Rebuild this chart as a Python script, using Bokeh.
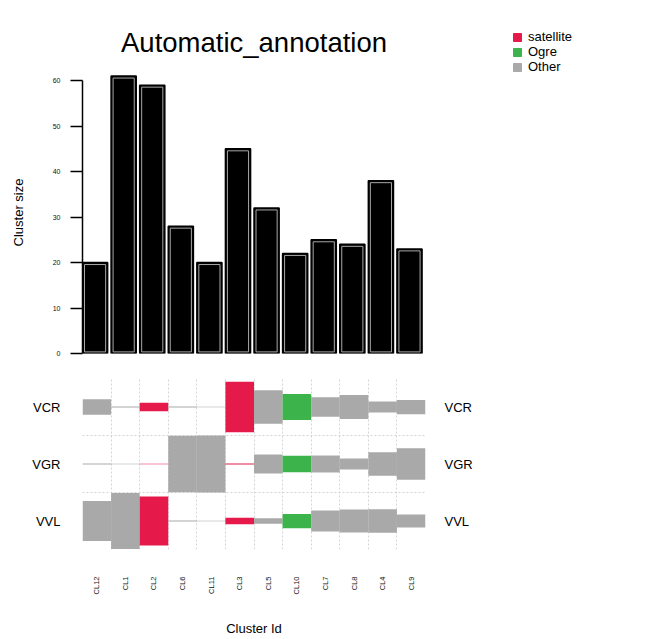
import math
from bokeh.plotting import figure
from bokeh.layouts import column, row
from bokeh.models import (Range1d, FixedTicker, Legend, LegendItem, LinearAxis,
                          ColumnDataSource)
from bokeh.embed import file_html
from bokeh.resources import INLINE

# ---------------- data ----------------
clusters = ["CL12", "CL1", "CL2", "CL6", "CL11", "CL3", "CL5", "CL10", "CL7", "CL8", "CL4", "CL9"]
sizes = [20, 61, 59, 28, 20, 45, 32, 22, 25, 24, 38, 23]
annotation = ["Other", "Other", "satellite", "Other", "Other", "satellite",
              "Other", "Ogre", "Other", "Other", "Other", "Other"]
size_ticks = [0, 10, 20, 30, 40, 50, 60]

rows = ["VCR", "VGR", "VVL"]
vcr = [0.27, 0.02, 0.15, 0.02, 0.01, 0.89, 0.59, 0.46, 0.34, 0.42, 0.19, 0.25]
vgr = [0.02, 0.01, 0.01, 0.99, 1.00, 0.02, 0.33, 0.29, 0.30, 0.19, 0.41, 0.55]
vvl = [0.70, 0.98, 0.86, 0.02, 0.01, 0.11, 0.10, 0.25, 0.37, 0.40, 0.41, 0.23]

legend_labels = ["satellite", "Ogre", "Other"]
legend_colors = ["#e6194b", "#3cb44b", "#a9a9a9"]

FONT = "Liberation Sans"
color_of = dict(zip(legend_labels, legend_colors))
n = len(clusters)
idx = list(range(n))

# ---------------- top: bar chart ----------------
p1 = figure(width=500, height=368, x_range=Range1d(0, n), y_range=Range1d(0, 62),
            output_backend="svg", toolbar_location=None,
            min_border_left=82, min_border_right=75, min_border_top=71, min_border_bottom=15)
p1.title.text = "Automatic_annotation"
p1.title.align = "center"
p1.title.text_font = FONT
p1.title.text_font_size = "27.5px"
p1.title.text_font_style = "normal"
p1.title.text_color = "black"
p1.title.standoff = 28

bar_w = 0.88
src = ColumnDataSource(dict(left=idx, right=[i + bar_w for i in idx],
                            top=sizes, bottom=[0] * n))
p1.quad(left="left", right="right", top="top", bottom="bottom", source=src,
        fill_color="black", line_color="black", line_width=1.5)
# thin inner highlight line of each bar
ix, iy = 0.07, 0.44
src_in = ColumnDataSource(dict(left=[i + ix for i in idx], right=[i + bar_w - ix for i in idx],
                               top=[s - iy for s in sizes], bottom=[iy * 0.8] * n))
p1.quad(left="left", right="right", top="top", bottom="bottom", source=src_in,
        fill_color=None, line_color="#a8a8a8", line_width=1)

p1.xaxis.visible = False
p1.xgrid.visible = False
p1.ygrid.visible = False
p1.outline_line_color = None
ya = p1.yaxis[0]
ya.ticker = FixedTicker(ticks=size_ticks)
ya.bounds = (0, 60)
ya.minor_tick_line_color = None
ya.major_tick_in = 0
ya.major_tick_out = 12
ya.major_tick_line_width = 1.5
ya.axis_line_width = 1.5
ya.major_label_text_font = FONT
ya.major_label_text_font_size = "7px"
ya.major_label_text_color = "#111111"
ya.major_label_standoff = 10
ya.axis_label = "Cluster size"
ya.axis_label_text_font = FONT
ya.axis_label_text_font_size = "13px"
ya.axis_label_text_font_style = "normal"
ya.axis_label_text_color = "black"
ya.axis_label_standoff = 24

# ---------------- bottom: annotation strip ----------------
p2 = figure(width=500, height=271, x_range=Range1d(0, n), y_range=Range1d(0, len(rows)),
            output_backend="svg", toolbar_location=None,
            min_border_left=82, min_border_right=75, min_border_top=10, min_border_bottom=88)
p2.outline_line_color = None
colors = [color_of[a] for a in annotation]
for k, vals in enumerate([vcr, vgr, vvl]):
    yc = len(rows) - 0.5 - k
    p2.rect(x=[i + 0.5 for i in idx], y=[yc] * n, width=1, height=vals,
            fill_color=colors, line_color=None)

p2.xgrid.ticker = FixedTicker(ticks=list(range(n + 1)))
p2.ygrid.ticker = FixedTicker(ticks=list(range(len(rows) + 1)))
for g in (p2.xgrid, p2.ygrid):
    g.grid_line_color = "#d4d4d4"
    g.grid_line_dash = "2 2"
    g.grid_line_width = 1

row_pos = [len(rows) - 0.5 - k for k in range(len(rows))]
row_over = {pos: name for pos, name in zip(row_pos, rows)}

xa = p2.xaxis[0]
xa.ticker = FixedTicker(ticks=[i + 0.5 for i in idx])
xa.major_label_overrides = {i + 0.5: c for i, c in zip(idx, clusters)}
xa.major_label_orientation = math.pi / 2
xa.major_label_text_font = FONT
xa.major_label_text_font_size = "7.5px"
xa.major_label_text_color = "#111111"
xa.major_label_standoff = 21
xa.major_tick_line_color = None
xa.minor_tick_line_color = None
xa.axis_line_color = None
xa.axis_label = "Cluster Id"
xa.axis_label_text_font = FONT
xa.axis_label_text_font_size = "13px"
xa.axis_label_text_font_style = "normal"
xa.axis_label_text_color = "black"
xa.axis_label_standoff = 24

la = p2.yaxis[0]
ra = LinearAxis()
p2.add_layout(ra, "right")
for ax, so in ((la, 16), (ra, 13)):
    ax.ticker = FixedTicker(ticks=row_pos)
    ax.major_label_overrides = row_over
    ax.major_label_text_font = FONT
    ax.major_label_text_font_size = "13px"
    ax.major_label_text_color = "black"
    ax.major_label_standoff = so
    ax.major_tick_line_color = None
    ax.minor_tick_line_color = None
    ax.axis_line_color = None

# ---------------- legend panel ----------------
p3 = figure(width=169, height=639, x_range=Range1d(0, 1), y_range=Range1d(0, 1),
            output_backend="svg", toolbar_location=None,
            min_border_left=0, min_border_right=0, min_border_top=0, min_border_bottom=0)
p3.axis.visible = False
p3.grid.visible = False
p3.outline_line_color = None
items = []
for lab, col in zip(legend_labels, legend_colors):
    # proxy renderer placed outside the visible range; only its legend swatch shows
    r = p3.quad(left=[5], right=[6], top=[6], bottom=[5], fill_color=col, line_color=col)
    items.append(LegendItem(label=lab, renderers=[r]))
leg = Legend(items=items, location=(12, 565), border_line_color=None,
             background_fill_alpha=0, glyph_width=10, glyph_height=10,
             label_text_font=FONT, label_text_font_size="13px", label_height=12,
             label_text_color="black",
             spacing=0, padding=0, margin=0, label_standoff=6)
p3.add_layout(leg, "center")

layout = row(column(p1, p2, spacing=0), p3, spacing=0)
open("out.html", "w").write(file_html(layout, INLINE))
